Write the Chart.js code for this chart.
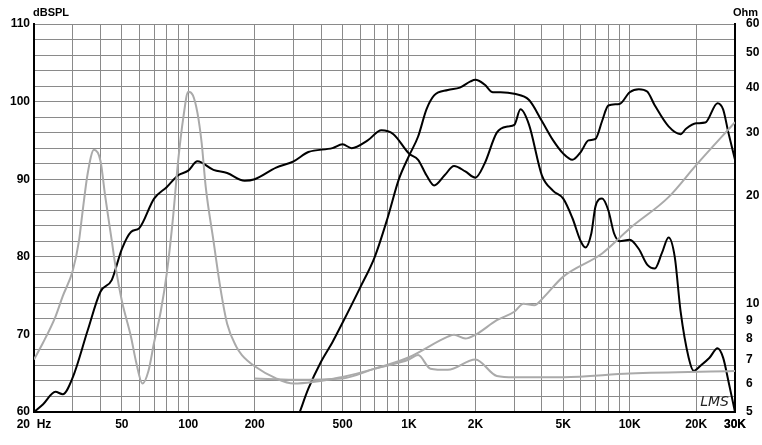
<!DOCTYPE html>
<html><head><meta charset="utf-8">
<script src="https://cdn.jsdelivr.net/npm/chart.js@4"></script>
<style>body{margin:0;background:#fff}canvas{display:block}</style>
</head><body><canvas id="c" width="762" height="445"></canvas>
<script>
const wooferSplF=[20,22,25,27,30,35,40,45,50,55,60,70,80,90,100,110,130,150,180,200,250,300,350,450,500,550,650,750,850,1000,1100,1200,1300,1450,1600,1800,2000,2200,2500,2800,3000,3200,3500,4000,4500,5000,5500,6000,6300,6700,7000,7500,8000,8500,9000,10000,11000,12000,13000,14000,15000,16000,17000,18500,19500,21000,23000,25000,26500,28000,30000];
const wooferSpl=[60,61,62.6,62.3,64.5,70.5,75.5,77,81,83.2,83.7,87.5,89,90.5,91.1,92.3,91.2,90.8,89.8,90,91.5,92.3,93.5,94,94.5,94,95,96.3,95.8,93.3,92.5,90.5,89.2,90.5,91.7,91,90.2,92,96,96.8,97,99,97,90.5,88.5,87.5,85,82,81.2,83,86.5,87.5,86,83,82,82.2,81,79,78.5,80.5,82.5,80,73,67,65.3,66,67,68.2,67,64,60];
const tweeterSplF=[320,350,400,450,500,600,700,800,900,1000,1100,1200,1300,1500,1700,1900,2000,2200,2400,2600,3000,3500,4000,4500,5000,5500,6000,6500,7000,7500,8000,9000,10000,11000,12000,13000,15000,17000,18000,20000,22000,25000,26500,28000,30000];
const tweeterSpl=[60,63,66.5,69,71.5,76,80,85,90,93,95.5,99,100.8,101.5,101.8,102.6,102.8,102.2,101.2,101.2,101,100.2,97.5,95,93.3,92.5,93.5,95,95.2,97.5,99.5,99.7,101.2,101.6,101.3,99.5,96.8,95.8,96.5,97.2,97.3,99.8,99,96,92.5];
const wooferZF=[20,22,25,27,30,32,33,35,37.4,40,42,45,47,50,55,58,62,66,70,75,80,85,90,95,100,105,110,115,120,130,140,150,165,175,200,250,300,500,700,1000,1500,1600,1800,2000,2500,3000,3300,3700,4000,5000,7500,10000,15000,20000,30000];
const wooferZ=[7.0,7.8,9.2,10.5,12.4,15,17.5,23,26.8,25,20,15,12.5,10.2,8.1,6.9,6.0,6.5,7.8,9.5,12.2,17,25,33,38.9,38,34,28,21.1,15,11,8.8,7.6,7.2,6.7,6.2,6.0,6.26,6.6,7.1,8.1,8.2,8.0,8.2,9.0,9.5,10.0,9.9,10.3,11.9,13.8,16.2,19.8,24.3,32];
const tweeterZF=[200,300,500,700,1000,1100,1250,1500,2000,2500,3000,5000,10000,30000];
const tweeterZ=[6.2,6.15,6.2,6.6,7.0,7.2,6.6,6.55,7.0,6.3,6.25,6.25,6.4,6.5];
const xTicks=[20,50,100,200,500,1000,2000,5000,10000,20000,30000];
const xTickLabels=['20  Hz','50','100','200','500','1K','2K','5K','10K','20K','30K'];
const yTicks=[60,70,80,90,100,110];
const zTicks=[5,6,7,8,9,10,20,30,40,50,60];

const pts=(f,v)=>f.map((x,i)=>({x:x,y:v[i]}));
const xGrid=[];
[10,100,1000,10000].forEach(d=>{for(let k=1;k<10;k++){const v=d*k;if(v>=20&&v<=30000)xGrid.push(v);}});
const font={family:'Liberation Sans, Arial, sans-serif',size:12,weight:'bold'};
const ds=(d,c,axis)=>({data:d,borderColor:c,borderWidth:2,pointRadius:0,showLine:true,cubicInterpolationMode:'monotone',yAxisID:axis,fill:false});
const textPlugin={id:'txt',afterDraw(ch){const c=ch.ctx,a=ch.chartArea;c.save();c.fillStyle='#000';c.font='bold 11px Liberation Sans, Arial';c.textAlign='left';c.fillText('dBSPL',a.left-1,a.top-8);c.textAlign='right';c.fillText('Ohm',a.right+23,a.top-8);c.font='italic 14px DejaVu Sans';c.fillStyle='#222';c.fillText('LMS',a.right-6,a.bottom-6);c.restore();}};
new Chart(document.getElementById('c'),{type:'scatter',
data:{datasets:[ds(pts(wooferZF,wooferZ),'#aaaaaa','y2'),ds(pts(tweeterZF,tweeterZ),'#aaaaaa','y2'),ds(pts(wooferSplF,wooferSpl),'#000','y'),ds(pts(tweeterSplF,tweeterSpl),'#000','y')]},
options:{responsive:false,devicePixelRatio:1,animation:false,
layout:{padding:{top:24,left:0,right:0,bottom:0}},
plugins:{legend:{display:false},tooltip:{enabled:false}},
scales:{
x:{type:'logarithmic',min:20,max:30000,afterFit(s){s.height=33;},
afterBuildTicks(s){s.ticks=xGrid.concat([30000]).map(v=>({value:v}));},
grid:{color:'#8a8a8a',lineWidth:1,drawTicks:false},border:{color:'#000',width:2},
ticks:{autoSkip:false,maxRotation:0,color:'#000',font:font,padding:5,callback(v){const i=xTicks.indexOf(v);return i<0?'':xTickLabels[i];}}},
y:{min:60,max:110,afterFit(s){s.width=34;},
afterBuildTicks(s){const t=[];for(let v=60;v<=110;v+=2)t.push({value:v});s.ticks=t;},
grid:{color:'#8a8a8a',lineWidth:1,drawTicks:false},border:{color:'#000',width:2},
ticks:{autoSkip:false,color:'#000',font:font,padding:4,callback(v){return yTicks.includes(v)?String(v):'';}}},
y2:{type:'logarithmic',position:'right',min:5,max:60,afterFit(s){s.width=27;},
afterBuildTicks(s){s.ticks=zTicks.map(v=>({value:v}));},
grid:{display:false},border:{color:'#000',width:2},
ticks:{color:'#000',font:font,padding:3,autoSkip:false,callback(v){return zTicks.includes(v)?String(v):'';}}}
}},plugins:[textPlugin]});
</script></body></html>
